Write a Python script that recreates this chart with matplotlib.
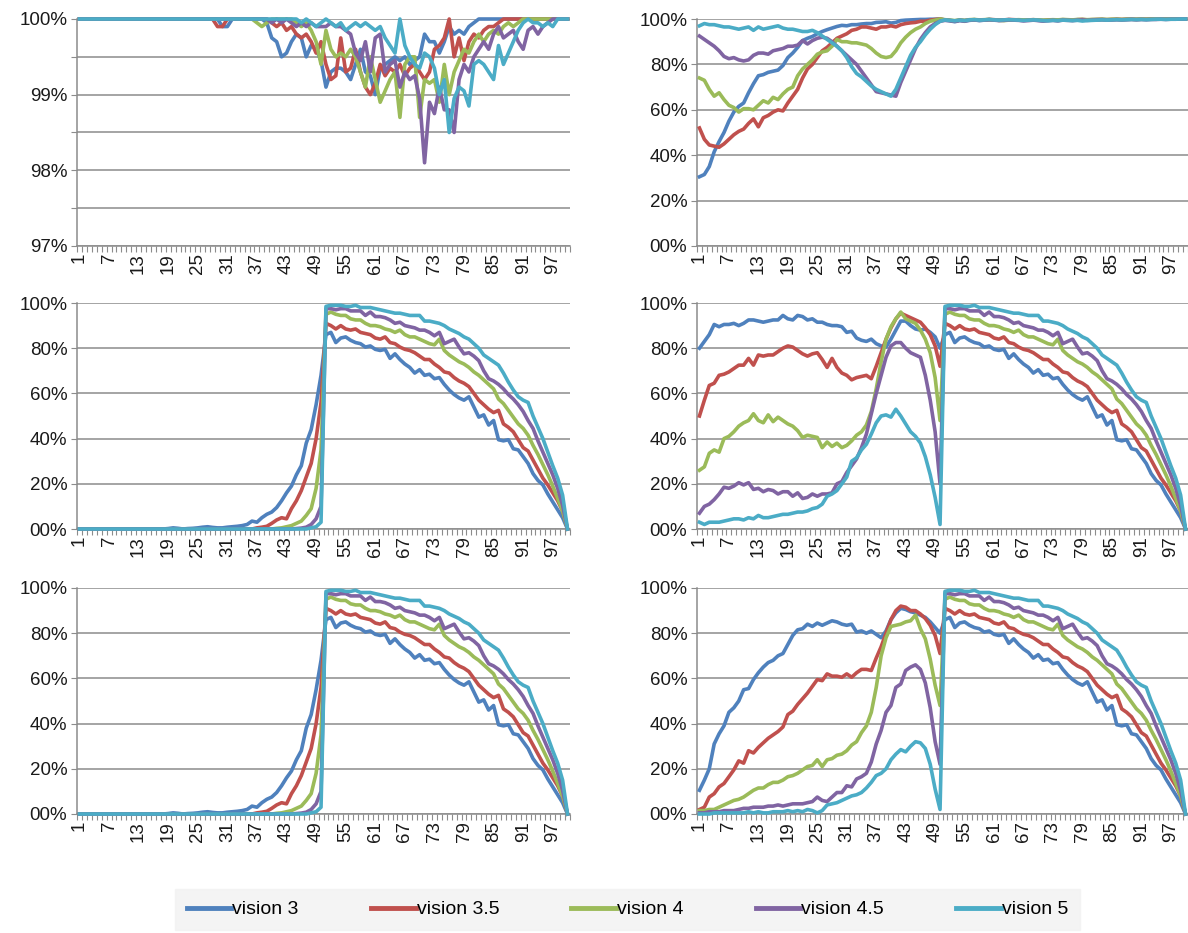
import numpy as np
import matplotlib.pyplot as plt

plt.rcParams["font.family"] = ["Liberation Sans", "DejaVu Sans"]

x = np.arange(1, 101)
names = ["vision 3", "vision 3.5", "vision 4", "vision 4.5", "vision 5"]
colors = ["#4F81BD", "#C0504D", "#9BBB59", "#8064A2", "#4BACC6"]
xtick_vals = list(range(1, 101, 6))

# --- panel 1 (top left), values in %
p1_v3 = [100] * 29 + [99.9, 99.9] + [100] * 7 + [
    99.95, 99.75, 99.7, 99.5, 99.55, 99.7, 99.8, 99.75, 99.5, 99.65,
    99.6, 99.45, 99.1, 99.3, 99.35, 99.35, 99.3, 99.2, 99.4, 99.6,
    99.3, 99.25, 99.0, 99.35, 99.4, 99.45, 99.5, 99.45, 99.5, 99.4,
    99.45, 99.5, 99.8, 99.7, 99.7, 99.55, 99.7, 99.9, 99.8, 99.85,
    99.8, 99.9, 99.95] + [100] * 19
p1_v35 = [100] * 28 + [99.9, 99.9] + [100] * 9 + [
    99.95, 99.9, 99.95, 99.85, 99.9, 99.8, 99.75, 99.8, 99.7, 99.55,
    99.7, 99.4, 99.2, 99.25, 99.75, 99.3, 99.35, 99.6, 99.3, 99.1,
    99.0, 99.15, 99.4, 99.25, 99.35, 99.3, 99.4, 99.25, 99.35, 99.4,
    99.3, 99.2, 99.3, 99.6, 99.65, 99.75, 100, 99.5, 99.75, 99.45,
    99.7, 99.8, 99.75, 99.85, 99.9, 99.9, 99.95] + [100] * 14
p1_v4 = [100] * 36 + [99.95, 99.9, 99.95] + [100] * 5 + [
    99.95, 99.9, 99.95, 99.85, 99.7, 99.4, 99.85, 99.6, 99.5, 99.55,
    99.5, 99.6, 99.5, 99.3, 99.1, 99.5, 99.2, 98.9, 99.05, 99.2,
    99.3, 98.7, 99.4, 99.5, 99.5, 98.7, 99.2, 99.15, 99.2, 98.9,
    99.4, 99.0, 99.3, 99.45, 99.6, 99.55, 99.7, 99.8, 99.7, 99.8,
    99.85, 99.8, 99.9, 99.95, 99.9, 99.95] + [100] * 10
p1_v45 = [100] * 39 + [
    99.95, 100, 99.95, 100, 99.95, 99.9, 99.95, 99.9, 99.95, 99.9,
    99.9, 99.9, 99.95, 99.9, 99.9, 99.85, 99.8, 99.55, 99.45, 99.7,
    99.3, 99.75, 99.8, 99.3, 99.4, 99.45, 99.1, 99.3, 99.2, 99.25,
    98.95, 98.1, 98.9, 98.75, 99.1, 98.8, 98.8, 98.5, 99.2, 99.4,
    99.3, 99.5, 99.6, 99.7, 99.6, 99.8, 99.9, 99.75, 99.8, 99.85,
    99.7, 99.6, 99.85, 99.9, 99.8, 99.9, 99.95] + [100] * 4
p1_v5 = [100] * 45 + [
    99.95, 100, 99.95, 99.9, 99.95, 100, 99.95, 99.9, 99.95, 99.85,
    99.9, 99.95, 99.9, 99.95, 99.9, 99.85, 99.9, 99.75, 99.65, 99.55,
    100, 99.65, 99.5, 99.4, 99.35, 99.55, 99.5, 99.35, 99.0, 99.2,
    98.5, 98.95, 99.1, 99.05, 98.85, 99.4, 99.45, 99.4, 99.3, 99.2,
    99.65, 99.4, 99.55, 99.7, 99.85, 99.95, 100, 99.95, 99.95, 99.9,
    99.95, 99.9] + [100] * 3

# --- panel 2 (top right)
p2_v3 = [
    30.5, 31.5, 35, 41.5, 46, 50, 55, 59, 61.5, 63,
    67.5, 71.5, 75, 75.5, 76.5, 77, 77.5, 79.5, 83, 85,
    87.5, 90.5, 91.5, 92.3, 93.5, 94.5, 95.3, 96, 96.7, 97.2,
    97, 97.5, 97.5, 97.8, 98, 98, 98.5, 98.6, 98.8, 98.2,
    98.5, 99.3, 99.5, 99.6, 99.7, 99.8, 99.8, 99.9, 99.9, 100,
    99.5, 99.2, 98.8, 99.3, 99.0, 99.4, 99.6, 99.3, 99.5, 99.7,
    99.6, 99.4, 99.5, 99.7, 99.6, 99.5, 99.3, 99.5, 99.6, 99.4,
    99.2, 99.4, 99.5, 99.3, 99.6, 99.5, 99.4, 99.6, 99.7, 99.5,
    99.6, 99.7, 99.8, 99.6, 99.7, 99.8, 99.7, 99.8, 99.9, 99.8,
    99.9, 99.8, 99.9, 99.9, 100, 99.9, 100, 100, 100, 100]
p2_v35 = [
    52, 47, 44.5, 44, 43.5, 45, 47, 49, 50.5, 51.5,
    54, 56, 52.5, 56.5, 57.5, 59, 60, 59.5, 63, 66,
    69, 74, 78, 80, 83, 86, 87.5, 89.5, 91.5, 92.5,
    93.5, 95, 95.5, 96.5, 96.5, 96, 95.5, 96.5, 96.5, 97,
    96.5, 97.5, 98, 98.3, 98.5, 99, 99, 99.5, 99.8, 100,
    99.6, 99.4, 99.1, 99.5, 99.3, 99.6, 99.7, 99.5, 99.6, 99.8,
    99.7, 99.5, 99.6, 99.8, 99.7, 99.6, 99.5, 99.6, 99.7, 99.5,
    99.4, 99.5, 99.6, 99.5, 99.7, 99.6, 99.5, 99.7, 99.8, 99.6,
    99.7, 99.8, 99.8, 99.7, 99.8, 99.9, 99.8, 99.9, 99.9, 99.8,
    99.9, 99.9, 100, 99.9, 100, 100, 100, 100, 100, 100]
p2_v4 = [
    74, 73, 69, 66, 67.5, 64.5, 62, 61, 59, 60.5,
    60.5, 60, 62, 64, 63, 65.5, 64.5, 67, 69, 70,
    75, 78, 80, 82, 84.5, 85.5, 86, 88, 91, 90,
    90, 89.5, 89.5, 89, 88.5, 87, 85, 83.5, 83, 83.5,
    86, 89.5, 92, 94, 95.5, 96.5, 98, 99, 99.5, 100,
    99.7, 99.5, 99.3, 99.6, 99.4, 99.7, 99.8, 99.6, 99.7, 99.8,
    99.6, 99.4, 99.3, 99.5, 99.6, 99.7, 99.6, 99.5, 99.7, 99.6,
    99.5, 99.6, 99.7, 99.6, 99.8, 99.7, 99.6, 99.8, 99.8, 99.7,
    99.8, 99.8, 99.9, 99.8, 99.9, 99.9, 99.8, 99.9, 99.9, 99.9,
    100, 99.9, 100, 100, 100, 100, 100, 100, 100, 100]
p2_v45 = [
    92.5, 91, 89.5, 88, 86, 83.5, 82.5, 83, 82, 81.5,
    82, 84, 85, 85, 84.5, 86, 86.5, 87, 88, 88,
    88.5, 90.5, 89, 90.5, 91.5, 92, 91.5, 90, 88, 86,
    84, 82, 80, 77, 74, 71, 68, 67.5, 67, 66.5,
    66, 72, 77, 82, 87, 91, 94, 96.5, 98, 99,
    99.4, 99.3, 99.0, 99.4, 99.2, 99.5, 99.6, 99.4, 99.5, 99.7,
    99.5, 99.3, 99.4, 99.6, 99.5, 99.4, 99.2, 99.3, 99.5, 99.3,
    99.1, 99.3, 99.4, 99.2, 99.5, 99.4, 99.3, 99.5, 99.6, 99.4,
    99.5, 99.6, 99.7, 99.5, 99.6, 99.7, 99.6, 99.7, 99.8, 99.7,
    99.8, 99.7, 99.8, 99.8, 99.9, 99.8, 99.9, 99.9, 100, 100]
p2_v5 = [
    97, 98, 97.5, 97.5, 97, 96.5, 96.5, 96, 95.5, 96,
    96.5, 95, 96.5, 95.5, 96, 96.5, 97, 96, 95.5, 95.5,
    95, 94.5, 94.5, 95, 94, 92.5, 91, 89.5, 88, 86,
    83, 79, 76, 74.5, 72.5, 70.5, 69, 68, 67, 66,
    69, 74, 79, 84, 87.5, 90, 93, 95.5, 97.5, 99,
    99.6, 99.4, 99.2, 99.5, 99.3, 99.6, 99.7, 99.5, 99.6, 99.8,
    99.6, 99.5, 99.6, 99.7, 99.6, 99.5, 99.4, 99.5, 99.6, 99.5,
    99.3, 99.2, 99.4, 99.3, 99.5, 99.4, 99.3, 99.4, 99.1, 99.3,
    99.4, 99.5, 99.6, 99.5, 99.6, 99.7, 99.6, 99.7, 99.8, 99.7,
    99.8, 99.7, 99.8, 99.9, 99.9, 99.8, 99.9, 99.9, 100, 100]

# --- second half (points 51-100), same in panels 3-6
tail_v3 = [
    86, 87, 82.5, 84.5, 85, 83.5, 82.5, 82, 80.5, 81,
    79.5, 79, 79.5, 75.5, 77.5, 75, 73, 71.5, 69, 70.5,
    68, 68.5, 66.5, 67, 64, 61.5, 59.5, 58, 57, 58.5,
    54, 49.5, 50.5, 46, 48, 39.5, 39, 39.5, 35.5, 35,
    32, 29, 24.5, 21.5, 19.5, 15.5, 12, 8.5, 5, 0]
tail_v35 = [
    91, 90, 88.5, 90, 88.5, 88, 88.5, 87, 86.5, 86,
    84.5, 84, 85, 82.5, 82, 80.5, 79.5, 79, 78, 76.5,
    75, 75, 73, 71.5, 69.5, 69, 67, 65.5, 64.5, 63,
    60, 57, 55, 53, 51.5, 52.5, 46.5, 45, 43, 39.5,
    36, 34.5, 30.5, 26.5, 22.5, 19.5, 16, 12.5, 8, 0]
tail_v4 = [
    95, 96, 95, 94.5, 94.5, 93, 92.5, 92.5, 91, 90,
    90, 89.5, 88.5, 88, 87, 88, 86, 85, 85, 84,
    83, 82, 81.5, 84, 79, 77, 75.5, 74, 73, 71.5,
    69.5, 68, 66, 64, 62, 57.5, 55.5, 52.5, 49.5, 46.5,
    44.5, 41.5, 37, 33, 28.5, 24, 19, 13.5, 8, 0]
tail_v45 = [
    97.5, 97.5, 97, 97.5, 97.5, 96.5, 96.5, 96.5, 94.5, 96,
    94, 94, 93.5, 92.5, 91, 91.5, 90, 89.5, 89, 88,
    88, 87, 85.5, 87, 82, 83, 84, 80.5, 77.5, 78,
    76.5, 74.5, 70, 66.5, 65.5, 64, 62, 59.5, 57.5, 55,
    52, 48, 44.5, 39, 34, 29, 24, 18, 10.5, 0]
tail_v5 = [
    98.5, 99, 99, 99, 98.5, 98.5, 99, 98, 98, 98,
    97.5, 97, 96.5, 96, 95.5, 95.5, 95, 94.5, 94.5, 94.5,
    92, 92, 91.5, 91, 90, 88.5, 87.5, 86.5, 85, 84,
    82, 80, 77, 75.5, 74, 72.5, 69, 65, 61.5, 58.5,
    57, 56, 50, 45, 40, 34, 28, 22.5, 15, 0]

# --- panels 3 and 5 (left column, rows 2 and 3), points 1-50
p3_v3 = [0] * 18 + [
    0.2, 0.5, 0.3, 0, 0.2, 0.3, 0.5, 0.8, 1, 0.7,
    0.5, 0.5, 0.8, 1, 1.2, 1.5, 2, 3.5, 3, 5,
    6.5, 7.5, 9.5, 12.5, 16, 19, 24, 28, 38, 44,
    55, 68]
p3_v35 = [0] * 36 + [0.5, 0.8, 1.2, 2.5, 4, 5, 4.5, 9, 12.5, 17, 23, 29, 40, 56]
p3_v4 = [0] * 40 + [0.3, 0.5, 1, 1.5, 2.5, 3.5, 6, 9, 18, 35]
p3_v45 = [0] * 44 + [0.2, 0.4, 0.8, 2, 4.5, 10]
p3_v5 = [0] * 47 + [0.5, 1, 3]

# --- panel 4 (middle right), points 1-50
p4_v3 = [
    80, 83, 86, 90.5, 89.5, 90.5, 90.5, 91, 90, 91,
    92.5, 92.5, 92, 91.5, 92, 92.5, 92.5, 94.5, 93, 92.5,
    94.5, 94, 92.5, 93, 91.5, 91.5, 90.5, 90, 90, 89.5,
    87, 87.5, 84.5, 83.5, 83, 84, 82, 81, 80.5, 84,
    88, 92, 92, 90, 88.5, 88, 88.5, 87, 85, 80]
p4_v35 = [
    50, 57, 63.5, 64.5, 68, 68.5, 69.5, 71, 72.5, 72.5,
    75.5, 72.5, 77, 76.5, 77, 77, 78.5, 80, 81, 80.5,
    79, 77.5, 76.5, 77.5, 78, 75, 71.5, 75.5, 71.5, 69,
    68, 66, 67, 67.5, 68, 66.5, 72, 78, 84, 89,
    93, 95.5, 94.5, 93.5, 92.5, 91.5, 89, 86, 81, 72]
p4_v4 = [
    26, 27.5, 33.5, 35, 34, 40, 41, 43, 45.5, 47,
    48, 51, 48, 47, 50.5, 47.5, 49.5, 48, 46.5, 45.5,
    43.5, 40.5, 41.5, 41, 40.5, 36, 38.5, 36.5, 38, 36,
    37, 39, 41.5, 43, 46, 52, 62, 74, 84, 89.5,
    93, 96, 93, 92, 91, 88, 84, 78, 67, 48]
p4_v45 = [
    7, 10, 11, 13, 15.5, 18.5, 18, 19, 20.5, 19.5,
    20.5, 17.5, 18, 16.5, 17.5, 17, 15.5, 16.5, 16.5, 14.5,
    16, 13.5, 14, 15.5, 14.5, 15.5, 15.5, 16, 20, 21,
    25, 28, 31, 36, 42, 51, 60, 68, 76, 81,
    82.5, 82.5, 80, 78, 77, 76, 68, 57, 43, 20]
p4_v5 = [
    3, 2, 3, 3, 3, 3.5, 4, 4.5, 4.5, 4,
    5, 4.5, 6, 5, 5, 5.5, 6, 6.5, 6.5, 7,
    7.5, 7.5, 8, 9, 9.5, 11, 14.5, 15.5, 17, 20,
    23, 30, 31.5, 35, 37.5, 42, 47, 50, 50.5, 49.5,
    53, 50, 46.5, 43, 41, 38, 32, 24, 14, 2]

# --- panel 6 (bottom right), points 1-50
p6_v3 = [
    10.5, 15, 20, 31, 35.5, 39, 45, 47, 50, 55,
    55.5, 59.5, 62.5, 65, 67, 68, 70, 71, 75, 79,
    81.5, 82, 84, 83, 84.5, 83.5, 84.5, 85.5, 85, 84,
    83.5, 84, 80.5, 81, 80, 81, 79.5, 78, 81, 86,
    89, 91, 90.5, 89.5, 89, 88, 87, 85, 82.5, 80]
p6_v35 = [
    2, 3, 7.5, 9, 12, 13.5, 16.5, 19.5, 23.5, 22.5,
    28, 27, 29.5, 31.5, 33.5, 35, 36.5, 38.5, 44, 45.5,
    48.5, 51, 53.5, 56.5, 59.5, 59, 62, 61, 61, 60.5,
    62, 60.5, 62.5, 64, 64, 63.5, 69, 74, 80, 86,
    90, 92, 91.5, 90, 90, 88.5, 86.5, 83.5, 79, 71]
p6_v4 = [
    1.5, 1.5, 2, 2, 3, 4, 5, 6, 6.5, 7.5,
    9, 10.5, 11.5, 11.5, 13, 14, 14, 15, 16.5, 17,
    18, 19.5, 21, 21.5, 24, 21, 24, 24.5, 26, 26.5,
    28, 30.5, 32, 36, 39, 45, 56, 70, 78, 83,
    83.5, 84, 85, 85.5, 88, 82, 77.5, 68.5, 57, 48]
p6_v45 = [
    0.5, 0.5, 1, 1, 1, 1.5, 1.5, 1.5, 2, 2.5,
    2.5, 3, 3, 3, 3.5, 3.5, 4, 3.5, 4, 4.5,
    4.5, 4.5, 5, 5.5, 7.5, 6, 5.5, 7.5, 9.5, 9.5,
    12.5, 12, 15.5, 16.5, 18, 23, 31, 37, 45, 48,
    56, 57.5, 63.5, 65, 66, 64, 58, 47, 32, 22]
p6_v5 = [
    0, 0, 0, 0.5, 0.5, 0.5, 0.5, 0.5, 0.5, 0.5,
    1, 0.5, 1, 0.5, 0.5, 1, 1, 1, 1.5, 1,
    1.5, 1, 2, 1.5, 0.5, 1.5, 4, 4.5, 5, 6,
    7, 8, 8.5, 9.5, 11.5, 14, 17, 18, 20, 24,
    26.5, 28.5, 27.5, 30, 32, 31.5, 29, 22, 11, 2]

tails = [tail_v3, tail_v35, tail_v4, tail_v45, tail_v5]
panel1 = [p1_v3, p1_v35, p1_v4, p1_v45, p1_v5]
panel2 = [p2_v3, p2_v35, p2_v4, p2_v45, p2_v5]
panel3 = [h + t for h, t in zip([p3_v3, p3_v35, p3_v4, p3_v45, p3_v5], tails)]
panel4 = [h + t for h, t in zip([p4_v3, p4_v35, p4_v4, p4_v45, p4_v5], tails)]
panel5 = panel3
panel6 = [h + t for h, t in zip([p6_v3, p6_v35, p6_v4, p6_v45, p6_v5], tails)]

grid_c = "#8c8c8c"
W, H = 1188, 933
fig = plt.figure(figsize=(W / 100, H / 100), dpi=100)

# axes boxes in pixels: left, top, right, bottom
boxes = [
    (77, 19, 570, 246), (697, 19, 1188, 246),
    (77, 303, 570, 529), (697, 303, 1188, 529),
    (77, 588, 570, 814), (697, 588, 1188, 814),
]
panels = [panel1, panel2, panel3, panel4, panel5, panel6]

pct_ticks = [0, 20, 40, 60, 80, 100]
pct_labels = ["00%", "20%", "40%", "60%", "80%", "100%"]
top_ticks = [97, 97.5, 98, 98.5, 99, 99.5, 100]
top_labels = ["97%", "", "98%", "", "99%", "", "100%"]

for i, (box, series) in enumerate(zip(boxes, panels)):
    l, t, r, b = box
    ax = fig.add_axes([l / W, 1 - b / H, (r - l) / W, (b - t) / H])
    for vals, c, n in zip(series, colors, names):
        assert len(vals) == 100
        ax.plot(x, vals, color=c, lw=2.6, label=n, clip_on=False,
                solid_joinstyle="round", zorder=3)
    ax.set_xlim(0.5, 100.5)
    if i == 0:
        ax.set_ylim(97, 100)
        ax.set_yticks(top_ticks)
        ax.set_yticklabels(top_labels)
    else:
        ax.set_ylim(0, 100)
        ax.set_yticks(pct_ticks)
        ax.set_yticklabels(pct_labels)
    ax.yaxis.grid(True, color=grid_c, lw=1.1)
    ax.set_axisbelow(True)
    ax.set_xticks(xtick_vals)
    ax.set_xticklabels([str(v) for v in xtick_vals], rotation=90)
    ax.set_xticks(np.arange(0.5, 101, 1), minor=True)
    ax.tick_params(axis="x", which="major", length=0, pad=5, labelsize=13.5,
                   colors="#1a1a1a")
    ax.tick_params(axis="x", which="minor", length=4, width=0.8,
                   color=grid_c, direction="out")
    ax.tick_params(axis="y", length=4, width=0.8, color=grid_c, pad=3,
                   labelsize=13.5, labelcolor="#1a1a1a")
    for s in ("top", "right"):
        ax.spines[s].set_visible(False)
    for s in ("left", "bottom"):
        ax.spines[s].set_color(grid_c)
        ax.spines[s].set_linewidth(1.1)
    if i == 0:
        handles = ax.get_lines()

leg = fig.legend(handles, names, loc="lower left",
                 bbox_to_anchor=(175 / W, 1 - 930 / H, 905 / W, 47 / H),
                 mode="expand", ncol=5, fontsize=14, frameon=True,
                 fancybox=False, facecolor="#f2f2f2", edgecolor="#f2f2f2",
                 handlelength=2.3, handletextpad=0.05, borderaxespad=0,
                 borderpad=0.6)
for ln in leg.get_lines():
    ln.set_linewidth(3.5)

fig.savefig("out.png", dpi=100)
